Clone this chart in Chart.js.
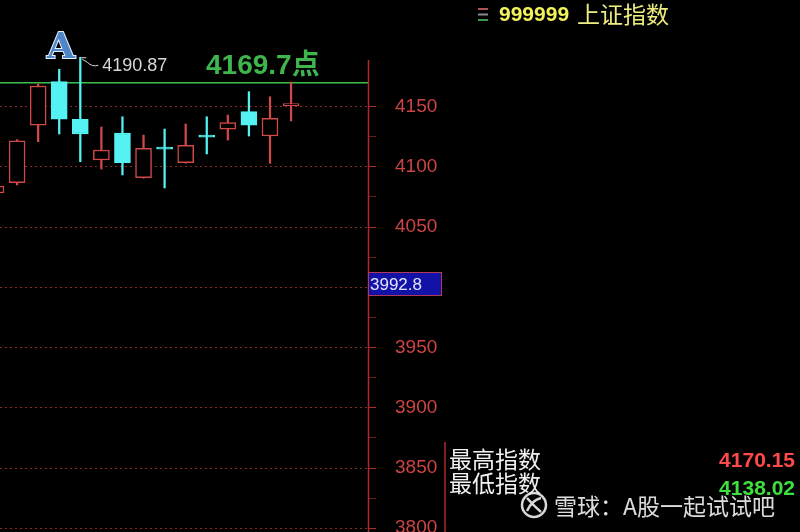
<!DOCTYPE html>
<html>
<head>
<meta charset="utf-8">
<script src="https://cdn.jsdelivr.net/npm/chart.js@4"></script>
<style>
  html, body { margin: 0; padding: 0; background: #000; }
  #wrap { width: 800px; height: 532px; background: #000; }
</style>
</head>
<body>
<div id="wrap"><canvas id="kChart" width="800" height="532"></canvas></div>
<script>
// K-line data, one entry per candle
const candleIdx = [0, 1, 2, 3, 4, 5, 6, 7, 8, 9, 10, 11, 12, 13, 14];
const opens  = [4078.2, 4086.8, 4134.6, 4170.6, 4139.4, 4105.6, 4128.0, 4090.9, 4116.4, 4103.4, 4126.4, 4131.1, 4145.7, 4125.5, 4150.8];
const closes = [4084.0, 4121.6, 4167.0, 4139.6, 4127.2, 4113.9, 4103.4, 4115.3, 4114.6, 4117.8, 4124.6, 4136.6, 4134.6, 4140.2, 4151.4];
const highs  = [4085.5, 4122.5, 4168.7, 4180.9, 4190.87, 4133.0, 4141.5, 4126.3, 4131.3, 4135.5, 4141.5, 4142.9, 4162.3, 4158.1, 4170.15];
const lows   = [4076.5, 4084.9, 4120.8, 4127.2, 4104.2, 4098.1, 4093.2, 4090.5, 4082.4, 4103.0, 4110.6, 4122.2, 4125.5, 4102.9, 4138.02];

const markLevel = 4169.7;      // green horizontal line
const peakIdx = 4;             // candle carrying the 4190.87 mark
const cursorPrice = "3992.8";
const yTickStep = 25;
const yLabelStep = 50;

const X_MIN = 0.19, X_MAX = 17.65;
const Y_MIN = 3796.9, Y_MAX = 4238.4;

const RED = "#d04848";
const CYAN = "#54f2f2";

const isUp = (i) => closes[i] >= opens[i];

const bodyData = candleIdx.map((i) => ({ x: i, y: [opens[i], closes[i]] }));
const wickData = candleIdx.map((i) => ({ x: i, y: [lows[i], highs[i]] }));
const levelData = [{ x: X_MIN, y: markLevel }, { x: X_MAX, y: markLevel }];

const overlay = {
  id: "overlay",
  afterDraw(chart) {
    const ctx = chart.ctx;
    const xs = chart.scales.x;
    const ys = chart.scales.y;
    const right = chart.chartArea.right;
    ctx.save();

    // price axis line
    ctx.strokeStyle = "#b02a2a";
    ctx.lineWidth = 1.5;
    ctx.beginPath();
    ctx.moveTo(right + 0.5, 60);
    ctx.lineTo(right + 0.5, 532);
    ctx.stroke();

    // "A" badge
    ctx.font = "bold 36px 'DejaVu Serif'";
    ctx.textBaseline = "alphabetic";
    ctx.textAlign = "left";
    ctx.lineWidth = 2;
    ctx.strokeStyle = "#e8f0ff";
    ctx.strokeText("A", 47, 58);
    ctx.fillStyle = "#4f86c8";
    ctx.fillText("A", 47, 58);

    // peak mark
    const px = xs.getPixelForValue(peakIdx);
    const py = ys.getPixelForValue(highs[peakIdx]);
    ctx.strokeStyle = "#d8d8d8";
    ctx.lineWidth = 1;
    ctx.beginPath();
    ctx.moveTo(px + 1, py + 0.5);
    ctx.lineTo(px + 6, py + 0.5);
    ctx.moveTo(px + 2, py + 2);
    ctx.lineTo(px + 7, py + 5);
    ctx.quadraticCurveTo(px + 12, py + 10, px + 18, py + 8);
    ctx.stroke();
    ctx.fillStyle = "#d8d8d8";
    ctx.font = "18px 'Liberation Sans'";
    ctx.textBaseline = "middle";
    ctx.fillText(highs[peakIdx].toFixed(2), px + 22, py + 9);

    // level text
    const ly = ys.getPixelForValue(markLevel);
    ctx.fillStyle = "#3fb54d";
    ctx.font = "bold 28px 'Liberation Sans', 'Noto Sans CJK SC'";
    ctx.textBaseline = "alphabetic";
    ctx.fillText(markLevel.toFixed(1) + "点", 206, ly - 9);

    // cursor price box
    ctx.fillStyle = "#1212a6";
    ctx.fillRect(right, 272, 74, 24);
    ctx.strokeStyle = "#b0385a";
    ctx.lineWidth = 1;
    ctx.strokeRect(right + 0.5, 272.5, 73, 23);
    ctx.fillStyle = "#e4e4ff";
    ctx.font = "17px 'Liberation Sans'";
    ctx.textBaseline = "middle";
    ctx.fillText(cursorPrice, right + 2, 285);

    // header
    const iconCols = ["#b05050", "#8a8a8a", "#3c9a4c"];
    iconCols.forEach((c, k) => {
      ctx.fillStyle = c;
      ctx.fillRect(478, 8 + k * 5.5, 10, 2);
    });
    ctx.fillStyle = "#f2f25a";
    ctx.font = "bold 21px 'Liberation Sans'";
    ctx.fillText("999999", 499, 15);
    ctx.fillStyle = "#eeee80";
    ctx.font = "23px 'Noto Sans CJK SC'";
    ctx.fillText("上证指数", 577, 14);

    // info panel bottom right
    ctx.strokeStyle = "#b02a2a";
    ctx.lineWidth = 1.5;
    ctx.beginPath();
    ctx.moveTo(445, 442);
    ctx.lineTo(445, 532);
    ctx.stroke();
    ctx.fillStyle = "#f2f2f2";
    ctx.font = "23px 'Noto Sans CJK SC'";
    ctx.fillText("最高指数", 449, 459);
    ctx.fillText("最低指数", 449, 483);
    ctx.textAlign = "right";
    ctx.font = "bold 21px 'Liberation Sans'";
    ctx.fillStyle = "#ff4a4a";
    ctx.fillText(highs[highs.length - 1].toFixed(2), 795, 461);
    ctx.fillStyle = "#3ee03e";
    ctx.fillText(lows[lows.length - 1].toFixed(2), 795, 489);

    // watermark
    ctx.textAlign = "left";
    ctx.globalAlpha = 0.9;
    ctx.strokeStyle = "#f0f0f0";
    ctx.lineWidth = 2.5;
    ctx.beginPath();
    ctx.arc(534, 505, 12, 0, Math.PI * 2);
    ctx.stroke();
    ctx.beginPath();
    ctx.moveTo(527, 498);
    ctx.quadraticCurveTo(534, 506, 541, 512);
    ctx.moveTo(527, 511);
    ctx.quadraticCurveTo(532, 500, 541, 498);
    ctx.stroke();
    ctx.fillStyle = "#f4f4f4";
    ctx.font = "23px 'Noto Sans CJK SC'";
    ctx.fillText("雪球：A股一起试试吧", 554, 506);
    ctx.restore();
  },
};

new Chart(document.getElementById("kChart"), {
  data: {
    datasets: [
      {
        type: "bar",
        label: "body",
        data: bodyData,
        order: 0,
        grouped: false,
        barThickness: 16,
        minBarLength: 2,
        borderWidth: 1.5,
        borderSkipped: false,
        backgroundColor: (c) => (isUp(c.dataIndex) ? "#000000" : CYAN),
        borderColor: (c) => (isUp(c.dataIndex) ? RED : CYAN),
      },
      {
        type: "bar",
        label: "wick",
        data: wickData,
        order: 1,
        grouped: false,
        barThickness: 1.6,
        borderWidth: 0,
        backgroundColor: (c) => (isUp(c.dataIndex) ? RED : CYAN),
      },
      {
        type: "line",
        label: "level",
        data: levelData,
        order: 2,
        borderColor: "#3cc04c",
        borderWidth: 1.5,
        pointRadius: 0,
      },
    ],
  },
  options: {
    responsive: false,
    animation: false,
    layout: { padding: 0 },
    plugins: {
      legend: { display: false },
      tooltip: { enabled: false },
    },
    scales: {
      x: {
        type: "linear",
        min: X_MIN,
        max: X_MAX,
        offset: false,
        display: false,
      },
      y: {
        type: "linear",
        position: "right",
        min: Y_MIN,
        max: Y_MAX,
        afterFit: function (scale) {
          scale.width = 432;
          scale.paddingTop = 0;
          scale.paddingBottom = 0;
        },
        border: { display: false, dash: [2, 3] },
        grid: {
          color: (c) => {
            const v = c.tick ? c.tick.value : 0;
            return v % yLabelStep === 0 && v <= 4160 ? "#8c2a2a" : "rgba(0,0,0,0)";
          },
          tickColor: (c) => {
            const v = c.tick ? c.tick.value : 0;
            if (v > 4160) return "rgba(0,0,0,0)";
            return v % yLabelStep === 0 ? "#b02a2a" : "#6a1c1c";
          },
          lineWidth: 1,
          tickLength: 8,
        },
        ticks: {
          stepSize: yTickStep,
          includeBounds: false,
          padding: 19,
          color: "#cc4444",
          font: { family: "Liberation Sans", size: 19 },
          callback: function (value) {
            if (value > 4160 || value % yLabelStep !== 0) return "";
            return String(value);
          },
        },
      },
    },
  },
  plugins: [overlay],
});
</script>
</body>
</html>
